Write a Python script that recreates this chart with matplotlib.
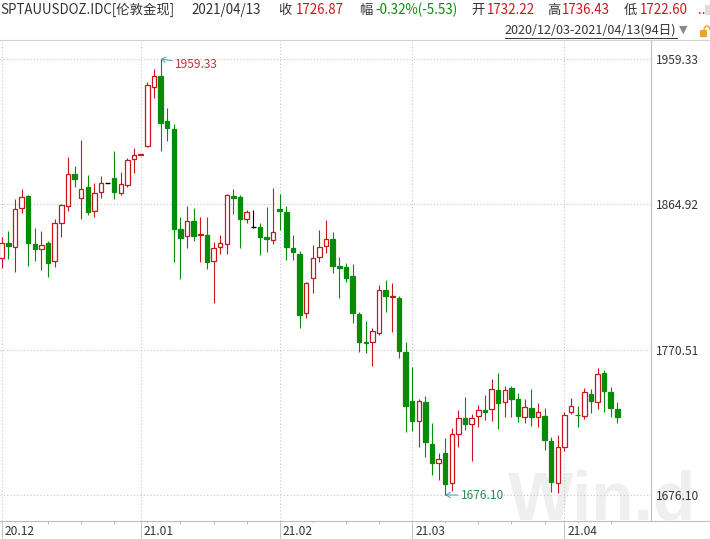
#!/usr/bin/env python3
import numpy as np
import pandas as pd
import matplotlib
matplotlib.use("Agg")
import matplotlib.pyplot as plt
from matplotlib.lines import Line2D
from matplotlib.patches import Rectangle, Arc
from matplotlib import transforms

plt.rcParams['font.family'] = ['Noto Sans CJK SC', 'DejaVu Sans']

# ─── 데이터 (SPTAUUSDOZ.IDC 일봉, 2020/12/03 ~ 2021/04/13) ─────────
CODE   = "SPTAUUSDOZ.IDC[伦敦金现]"
dates  = pd.bdate_range("2020-12-03", "2021-04-13")   # 94 거래일

opens = [
    1829.9, 1839.8, 1837.4, 1862.3, 1870.3, 1839.2, 1836.1, 1839.6, 1827.9, 1852.6,
    1863.6, 1884.6, 1868.8, 1876.0, 1860.4, 1872.9, 1878.6, 1881.8, 1872.5, 1877.3,
    1894.2, 1897.0, 1903.0, 1941.3, 1948.3, 1919.1, 1913.9, 1848.9, 1844.5, 1854.1,
    1845.0, 1845.0, 1828.3, 1837.4, 1839.2, 1870.3, 1869.9, 1855.2, 1850.0, 1850.0,
    1843.5, 1841.6, 1861.9, 1859.7, 1836.4, 1832.7, 1794.1, 1816.9, 1830.5, 1838.0,
    1842.2, 1824.9, 1824.0, 1818.4, 1793.7, 1775.5, 1775.3, 1781.3, 1809.3, 1804.7,
    1804.1, 1769.2, 1737.2, 1724.2, 1736.3, 1709.2, 1697.1, 1703.6, 1683.7, 1715.5,
    1726.3, 1722.0, 1727.4, 1731.3, 1731.8, 1744.3, 1736.2, 1745.4, 1738.5, 1726.6,
    1732.4, 1726.6, 1727.4, 1711.2, 1684.1, 1707.5, 1729.8, 1728.2, 1727.6, 1741.7,
    1736.7, 1755.2, 1742.8, 1732.22,
]
highs = [
    1843.5, 1847.6, 1868.4, 1874.7, 1870.7, 1849.5, 1847.6, 1841.1, 1855.2, 1865.1,
    1895.5, 1889.8, 1906.7, 1884.0, 1878.6, 1883.3, 1878.6, 1899.6, 1886.1, 1894.8,
    1901.3, 1897.5, 1944.2, 1952.8, 1959.33, 1927.7, 1917.1, 1856.5, 1863.8, 1862.3,
    1856.9, 1856.5, 1840.3, 1845.0, 1871.6, 1874.9, 1871.0, 1861.2, 1861.2, 1852.6,
    1863.0, 1875.3, 1871.6, 1863.8, 1845.0, 1834.6, 1814.5, 1838.5, 1848.2, 1854.7,
    1847.1, 1830.9, 1826.6, 1826.2, 1795.2, 1789.1, 1784.4, 1812.5, 1815.8, 1813.6,
    1805.4, 1775.7, 1759.1, 1738.5, 1740.4, 1723.1, 1703.6, 1713.3, 1719.4, 1731.3,
    1739.6, 1728.5, 1734.6, 1741.1, 1751.3, 1755.2, 1746.6, 1746.9, 1742.2, 1738.3,
    1744.8, 1736.1, 1732.4, 1713.6, 1715.1, 1730.2, 1738.9, 1733.9, 1745.4, 1744.8,
    1758.4, 1757.3, 1746.5, 1736.43,
]
lows = [
    1823.4, 1829.4, 1821.2, 1859.5, 1824.9, 1828.3, 1822.3, 1817.9, 1824.4, 1843.9,
    1860.8, 1876.4, 1855.2, 1858.0, 1856.9, 1868.8, 1878.6, 1868.4, 1871.0, 1876.0,
    1885.1, 1897.0, 1902.4, 1933.8, 1899.8, 1906.1, 1827.7, 1816.2, 1836.4, 1841.3,
    1827.7, 1822.7, 1801.0, 1832.7, 1832.5, 1858.4, 1836.7, 1852.6, 1849.4, 1832.0,
    1834.2, 1839.0, 1848.2, 1828.8, 1828.8, 1784.8, 1791.3, 1807.1, 1827.7, 1833.1,
    1820.1, 1803.9, 1814.7, 1788.0, 1769.2, 1768.2, 1760.1, 1780.0, 1795.2, 1782.2,
    1765.4, 1716.8, 1717.9, 1707.1, 1701.0, 1689.1, 1685.8, 1676.10, 1678.9, 1707.5,
    1718.3, 1698.4, 1720.5, 1724.8, 1724.2, 1718.8, 1727.0, 1727.0, 1723.7, 1722.7,
    1720.9, 1720.5, 1705.3, 1678.2, 1677.6, 1704.9, 1728.7, 1720.5, 1725.5, 1729.2,
    1732.0, 1730.2, 1726.6, 1722.60,
]
closes = [
    1839.6, 1837.9, 1861.9, 1869.5, 1840.0, 1836.1, 1838.3, 1826.6, 1852.6, 1864.3,
    1884.4, 1881.2, 1875.1, 1859.7, 1872.1, 1878.6, 1878.6, 1873.1, 1878.1, 1893.7,
    1897.0, 1897.5, 1942.4, 1948.5, 1918.0, 1914.3, 1848.9, 1842.9, 1854.1, 1844.5,
    1845.5, 1827.7, 1836.4, 1839.6, 1871.0, 1869.2, 1855.2, 1859.7, 1850.0, 1843.9,
    1842.2, 1846.8, 1860.6, 1837.4, 1834.2, 1793.0, 1813.6, 1829.9, 1837.4, 1842.2,
    1825.1, 1823.8, 1817.3, 1794.5, 1775.7, 1775.0, 1782.8, 1809.3, 1805.6, 1805.1,
    1769.8, 1734.1, 1724.4, 1737.2, 1710.7, 1697.1, 1699.3, 1683.2, 1715.7, 1726.3,
    1722.0, 1726.3, 1731.3, 1730.0, 1744.8, 1736.1, 1744.3, 1738.5, 1727.6, 1733.5,
    1727.0, 1730.2, 1711.8, 1684.7, 1707.1, 1728.1, 1734.1, 1727.9, 1742.8, 1737.4,
    1754.5, 1743.7, 1732.40, 1726.87,
]

ytick_values = [1676.10, 1770.51, 1864.92, 1959.33]
month_labels = ["20.12", "21.01", "21.02", "21.03", "21.04"]
# ──────────────────────────────────────────────────────────

W, H = 710, 539
RED   = "#c9161e"
GREEN = "#078c07"
DARK  = "#333333"
GRID  = "#c6c6c6"
LINE  = "#bdbdbd"


def px(x, y):
    """픽셀 좌표(좌상단 기준) → figure 좌표"""
    return x / W, 1 - y / H


def draw_candles(ax):
    o = np.array(opens); h = np.array(highs)
    l = np.array(lows);  c = np.array(closes)
    idx = np.arange(len(o))
    for i in idx:
        if c[i] > o[i]:
            col, face = RED, "white"
        elif c[i] < o[i]:
            col, face = GREEN, GREEN
        else:
            col, face = "black", "black"
        ax.vlines(i, l[i], h[i], color=col, lw=0.8, zorder=2)
        if c[i] == o[i]:
            ax.hlines(o[i], i - 0.38, i + 0.38, color=col, lw=1.0, zorder=3)
        else:
            ax.bar(i, abs(c[i] - o[i]), bottom=min(o[i], c[i]), width=0.68,
                   facecolor=face, edgecolor=col, lw=0.9, zorder=3)


def main():
    fig = plt.figure(figsize=(W / 100, H / 100), dpi=100)
    # 플롯 영역: x 0~651px, y 40~521px
    ax = fig.add_axes([0, (H - 521) / H, 651 / W, 481 / H])

    n = len(opens)
    step = 6.62
    ax.set_xlim(-1.7 / step, (651 - 1.7) / step)
    ax.set_ylim(1959.33 - 462 / 1.5394, 1959.33 + 19 / 1.5394)

    # 워터마크 (캔들 뒤)
    ax.text(*px(508, 520), "Win.d", transform=fig.transFigure, ha="left", va="baseline",
            fontsize=50, fontweight="bold", family="Liberation Sans", color="#efefef",
            zorder=0.5)

    draw_candles(ax)

    # 월 시작 / 주 시작(월요일)
    month_idx = [i for i in range(n) if i == 0 or dates[i].month != dates[i - 1].month]
    monday_idx = [i for i in range(n) if dates[i].dayofweek == 0 and i not in month_idx]
    ax.set_xticks(month_idx)
    ax.set_xticks(monday_idx, minor=True)
    ax.set_xticklabels([])
    ax.tick_params(axis="x", which="major", length=13, width=0.7, color=GRID)
    ax.tick_params(axis="x", which="minor", length=2.5, width=0.7, color=LINE)
    lab_tr = transforms.offset_copy(ax.get_xaxis_transform(), fig=fig, x=2.2, y=-7.3,
                                    units="points")
    for i, lab in zip(month_idx, month_labels):
        ax.text(i, 0, lab, transform=lab_tr, ha="left", va="center", fontsize=8.6,
                color=DARK, zorder=5,
                bbox=dict(boxstyle="square,pad=0.15", fc="white", ec="none"))

    # y축 (오른쪽)
    ax.yaxis.tick_right()
    ax.set_yticks(ytick_values)
    ax.set_yticklabels([f"{v:.2f}" for v in ytick_values])
    ax.tick_params(axis="y", length=0, pad=3.6, labelsize=8.6, labelcolor=DARK)

    ax.set_axisbelow(True)
    ax.grid(True, axis="both", which="major", ls=(0, (1, 2)), color=GRID, lw=0.8)

    for s in ("left", "top", "bottom"):
        ax.spines[s].set_visible(False)
    ax.spines["right"].set_color(LINE)
    ax.spines["right"].set_linewidth(0.8)

    # 상/하단 가로선
    for y in (40, 521):
        fig.add_artist(Line2D([0, 1], [px(0, y)[1]] * 2, color=LINE if y == 521 else "#d2d2d2",
                              lw=0.8))

    # 최고/최저 표시
    imax = int(np.argmax(highs))
    imin = int(np.argmin(lows))
    arrow = dict(arrowstyle="->,head_length=0.35,head_width=0.22", color="#4a96b4",
                 lw=0.7, shrinkA=0, shrinkB=0)
    ax.annotate(f"{highs[imax]:.2f}", xy=(imax, highs[imax]), xytext=(10.5, -3.8),
                textcoords="offset points", ha="left", va="center", fontsize=8.6,
                color="#c8323c", arrowprops=arrow, zorder=6)
    ax.annotate(f"{lows[imin]:.2f}", xy=(imin, lows[imin]), xytext=(11, 0),
                textcoords="offset points", ha="left", va="center", fontsize=8.6,
                color="#2e8b57", arrowprops=arrow, zorder=6)

    # ─── 헤더 ───
    chg = closes[-1] - closes[-2]
    pct = chg / closes[-2] * 100
    row1 = [
        (0,   CODE, DARK),
        (191, f"{dates[-1]:%Y/%m/%d}", DARK),
        (278, "收", DARK), (296, f"{closes[-1]:.2f}", RED),
        (359, "幅", DARK), (375, f"{pct:.2f}%({chg:.2f})", GREEN),
        (471, "开", DARK), (487, f"{opens[-1]:.2f}", RED),
        (547, "高", DARK), (562, f"{highs[-1]:.2f}", RED),
        (624, "低", DARK), (640, f"{lows[-1]:.2f}", RED),
        (698, "..", RED),
    ]
    for x, t, col in row1:
        fig.text(*px(x, 10), t, ha="left", va="center", fontsize=9.6, color=col)
    fig.patches.append(Rectangle(px(705, 15), 6 / W, 10 / H, transform=fig.transFigure,
                                 fc="#dcdcdc", ec="none"))

    rng = f"{dates[0]:%Y/%m/%d}-{dates[-1]:%Y/%m/%d}({len(dates)}日)"
    t2 = fig.text(*px(505, 30), rng, ha="left", va="center", fontsize=9.1, color=DARK)
    fig.canvas.draw()
    bb = t2.get_window_extent().transformed(fig.transFigure.inverted())
    fig.add_artist(Line2D([bb.x0, bb.x1], [px(0, 37.5)[1]] * 2, color=DARK, lw=0.7))
    fig.text(bb.x1 + 2 / W, px(0, 30)[1], "▼", ha="left", va="center", fontsize=8,
             color="#8a8a8a", family=["DejaVu Sans"])
    # 자물쇠 아이콘
    fig.patches.append(Rectangle(px(700, 37), 7 / W, 7 / H, transform=fig.transFigure,
                                 fc="#f0a030", ec="none"))
    fig.patches.append(Arc(px(707, 30), 6 / W, 8 / H, theta1=0, theta2=180,
                           transform=fig.transFigure, color="#f0a030", lw=1.0))

    fig.savefig("out.png", dpi=100)


if __name__ == "__main__":
    main()
